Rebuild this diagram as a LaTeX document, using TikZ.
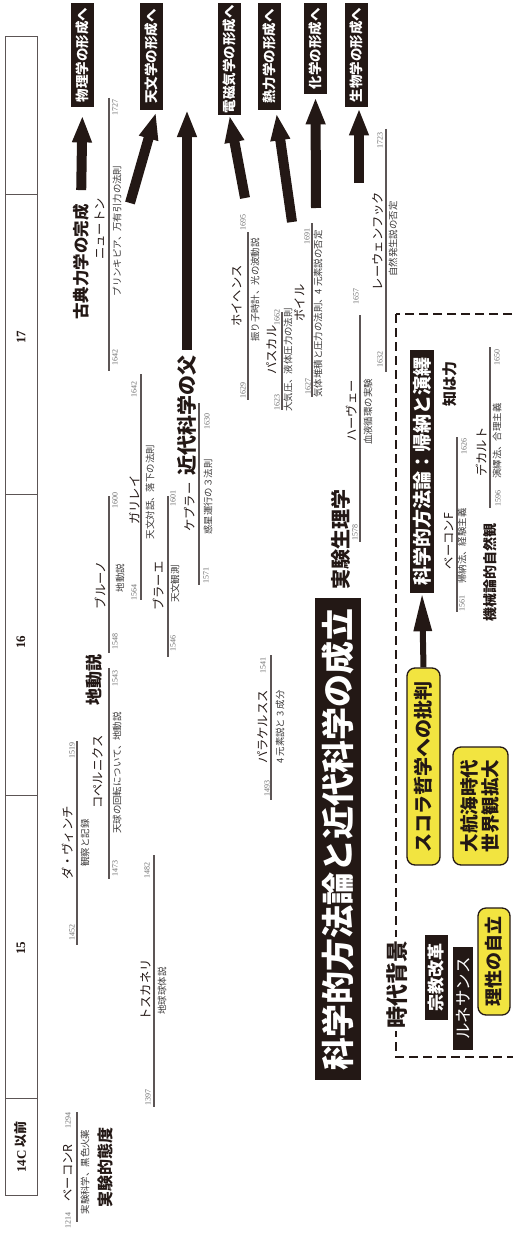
\documentclass[tikz,border=0pt]{standalone}
\usepackage{fontspec}
\setmainfont{Liberation Serif}
\newfontfamily\jp{Noto Sans CJK JP}
\usetikzlibrary{arrows.meta,calc}

\definecolor{ink}{HTML}{231815}
\definecolor{hilite}{HTML}{F2E440}
\definecolor{rule}{HTML}{5C5555}
\definecolor{yeargray}{HTML}{6E6E6E}
\definecolor{descgray}{HTML}{3C3A3A}

\tikzset{
  lbl/.style={rotate=90, inner sep=0pt, anchor=center},
  who/.style={lbl, font=\jp\fontsize{12.3}{12.3}\selectfont, text=ink},
  what/.style={lbl, font=\jp\fontsize{9.4}{9.4}\selectfont, text=descgray},
  yr/.style={lbl, font=\fontsize{8}{8}\selectfont, text=yeargray},
  theme/.style={lbl, font=\jp\bfseries\fontsize{#1}{#1}\selectfont, text=ink},
  era/.style={lbl, font=\bfseries\fontsize{13}{13}\selectfont, text=ink},
  life/.style={draw=rule, line width=1.1pt},
  goal/.style={rotate=90, fill=ink, text=white, anchor=east, inner sep=0pt,
    minimum height=23pt, font=\jp\bfseries\fontsize{13.5}{13.5}\selectfont},
  tag/.style={rotate=90, fill=ink, text=white, inner sep=0pt, anchor=center},
  note/.style={rotate=90, fill=hilite, draw=ink, line width=1.3pt, rounded corners=8pt,
    text=ink, inner sep=0pt, anchor=center, align=center},
  bigarrow/.style={draw=ink, line width=10pt, -{Triangle[width=18pt,length=27pt]}},
}

\begin{document}
\begin{tikzpicture}[x=1pt, y=-1pt]
\fill[white] (0,0) rectangle (513,1236);
\useasboundingbox (0,0) rectangle (513,1236);

% century column
\draw[draw=rule, line width=1pt] (5,37) rectangle (37,1195);
\foreach \yy in {194,494,795,1098} \draw[draw=rule, line width=1pt] (5,\yy) -- (37,\yy);
\node[era] (c17) at (21,337) {17};
\node[era] (c16) at (21,642) {16};
\node[era] (c15) at (21,948) {15};
\node[era] (c14) at (21,1147) {14C {\jp 以前}};

% target fields
\node[goal, minimum width=104pt] (phys)   at (82.5,3)  {物理学の形成へ};
\node[goal, minimum width=107pt] (astro)  at (151.5,3) {天文学の形成へ};
\node[goal, minimum width=112pt] (emag)   at (229.5,3) {電磁気学の形成へ};
\node[goal, minimum width=107pt] (thermo) at (269.5,3) {熱力学の形成へ};
\node[goal, minimum width=91pt]  (chem)   at (315.5,3) {化学の形成へ};
\node[goal, minimum width=104pt] (bio)    at (356.5,3) {生物学の形成へ};

% Roger Bacon
\draw[life] (77,1112) -- (77,1222);
\node[yr] (rbB) at (68,1220) {1214};
\node[who] (rb) at (68,1173) {ベーコンR};
\node[yr] (rbD) at (68,1120) {1294};
\node[what] (rbW) at (85,1172) {実験科学、黒色火薬};
\node[theme=16] (expAtt) at (105,1167) {実験的態度};

% Toscanelli
\draw[life] (154,855) -- (154,1107);
\node[yr] (tsD) at (147,870) {1482};
\node[yr] (tsB) at (148,1097) {1397};
\node[who] (ts) at (146,990) {トスカネリ};
\node[what] (tsW) at (162,991) {地球球体説};

% Leonardo
\draw[life] (77,741) -- (77,945);
\node[yr] (dvD) at (72,750) {1519};
\node[yr] (dvB) at (72,932) {1452};
\node[who] (dv) at (68,843) {ダ・ヴィンチ};
\node[what] (dvW) at (85,843) {観察と記録};

% Copernicus
\draw[life] (109,668) -- (109,879);
\node[yr] (cpD) at (115,678) {1543};
\node[yr] (cpB) at (115,868) {1473};
\node[who] (cp) at (98,772) {コペルニクス};
\node[what] (cpW) at (117,773) {天球の回転について、地動説};
\node[theme=17] (helio) at (94,680) {地動説};

% Bruno
\draw[life] (109,496) -- (109,653);
\node[yr] (brD) at (115,500) {1600};
\node[yr] (brB) at (115,641) {1548};
\node[who] (br) at (100,585) {ブルーノ};
\node[what] (brW) at (120,578) {地動説};

% Galileo
\draw[life] (141,374) -- (141,600);
\node[yr] (glD) at (134,389) {1642};
\node[yr] (glB) at (134,592) {1564};
\node[who] (gl) at (135,500) {ガリレイ};
\node[what] (glW) at (150,492) {天文対話、落下の法則};

% Tycho
\draw[life] (168,496) -- (168,657);
\node[yr] (tyD) at (173,498) {1601};
\node[yr] (tyB) at (173,643) {1546};
\node[who] (ty) at (158,586) {ブラーエ};
\node[what] (tyW) at (175,584) {天文観測};

% Kepler
\draw[life] (199,403) -- (199,585);
\node[yr] (kpD) at (207,421) {1630};
\node[yr] (kpB) at (206,575) {1571};
\node[who] (kp) at (190,507) {ケプラー};
\node[what] (kpW) at (208,497) {惑星運行の３法則};
\node[theme=20] (father) at (187,415) {近代科学の父};

% Newton
\draw[life] (109,98) -- (109,371);
\node[yr] (nwD) at (115,108) {1727};
\node[yr] (nwB) at (115,357) {1642};
\node[who] (nw) at (100,229) {ニュートン};
\node[what] (nwW) at (117,231) {プリンキピア、万有引力の法則};
\node[theme=16.5] (classic) at (81,262) {古典力学の完成};

% Paracelsus
\draw[life] (271,655) -- (271,800);
\node[yr] (pcD) at (263,665) {1541};
\node[yr] (pcB) at (267,788) {1493};
\node[who] (pc) at (263,727) {パラケルスス};
\node[what] (pcW) at (280,727) {4 元素説と 3 成分};

% Huygens
\draw[life] (248,232) -- (248,400);
\node[yr] (hyD) at (243,222) {1695};
\node[yr] (hyB) at (243,390) {1629};
\node[who] (hy) at (237,296) {ホイヘンス};
\node[what] (hyW) at (255,290) {振り子時計、光の波動説};

% Pascal
\draw[life] (282,312) -- (282,410);
\node[yr] (psD) at (277,317) {1662};
\node[yr] (psB) at (277,402) {1623};
\node[who] (ps) at (272,350) {パスカル};
\node[what] (psW) at (288,360) {大気圧、液体圧力の法則};

% Boyle
\draw[life] (312,223) -- (312,397);
\node[yr] (byD) at (307,236) {1691};
\node[yr] (byB) at (308,386) {1627};
\node[who] (by) at (300,303) {ボイル};
\node[what] (byW) at (318,314) {気体堆積と圧力の法則、4 元素説の否定};

% Harvey
\draw[life] (360,315) -- (360,542);
\node[yr] (hvD) at (356,296) {1657};
\node[yr] (hvB) at (355,532) {1578};
\node[who] (hv) at (352,411) {ハーヴェー};
\node[what] (hvW) at (368,412) {血液循環の実験};
\node[theme=20] (physio) at (341,539) {実験生理学};

% Leeuwenhoek
\draw[life] (386,129) -- (386,372);
\node[yr] (lwD) at (380,140) {1723};
\node[yr] (lwB) at (380,359) {1632};
\node[who] (lw) at (378,241) {レーウェンフック};
\node[what] (lwW) at (393,239) {自然発生説の否定};

% title band
\node[tag, minimum width=482pt, minimum height=46pt,
  font=\jp\bfseries\fontsize{33}{33}\selectfont] (title) at (338,839)
  {科学的方法論と近代科学の成立};

% background frame
\draw[draw=ink, line width=1.2pt, dash pattern=on 9pt off 5pt] (396,314) rectangle (530,1057);
\node[lbl, fill=white, inner sep=3pt, font=\jp\bfseries\fontsize{22}{22}\selectfont, text=ink]
  (bg) at (397,984) {時代背景};
\node[tag, minimum width=85pt, minimum height=23pt,
  font=\jp\bfseries\fontsize{17}{17}\selectfont] (reform) at (436.5,977.5) {宗教改革};
\node[tag, minimum width=103pt, minimum height=20pt,
  font=\jp\fontsize{16.5}{16.5}\selectfont] (renai) at (463,998.5) {ルネサンス};
\node[note, minimum width=107pt, minimum height=32pt,
  font=\jp\bfseries\fontsize{18}{18}\selectfont] (reason) at (494,961.5) {理性の自立};
\node[note, minimum width=118pt, minimum height=55pt,
  font=\jp\bfseries\fontsize{18.5}{21}\selectfont] (voyage) at (480.5,806) {大航海時代\\世界観拡大};
\node[note, minimum width=197pt, minimum height=33pt,
  font=\jp\bfseries\fontsize{19}{19}\selectfont] (schola) at (423.5,766.5) {スコラ哲学への批判};
\node[tag, minimum width=243pt, minimum height=24pt,
  font=\jp\bfseries\fontsize{19}{19}\selectfont] (method) at (422,471.5) {科学的方法論：帰納と演繹};
\node[theme=15] (power) at (450,384) {知は力};
\node[theme=14] (mech) at (490,572) {機械論的自然観};

% Francis Bacon
\draw[life] (457,437) -- (457,612);
\node[yr] (fbD) at (464,446) {1626};
\node[yr] (fbB) at (462,603) {1561};
\node[who] (fb) at (449,541) {ベーコンF};
\node[what] (fbW) at (462,546) {帰納法、経験主義};

% Descartes
\draw[life] (490,347) -- (490,508);
\node[yr] (dcD) at (497,357) {1650};
\node[yr] (dcB) at (498,498) {1596};
\node[who] (dc) at (482,452) {デカルト};
\node[what] (dcW) at (497,441) {演繹法、合理主義};

% arrows
\coordinate (astroTail) at (130,203);
\coordinate (keplerTip) at (187,110);
\coordinate (emTail) at (245,198);
\coordinate (thermoTail) at (292,222);
\coordinate (chemTail) at (316,208);
\coordinate (bioTail) at (359,183);
\draw[bigarrow, shorten <=14pt, shorten >=8pt] (classic.east) -- (phys.west);
\draw[bigarrow] (astroTail) -- ([xshift=4.5pt, yshift=-2pt]astro.west);
\draw[bigarrow, shorten <=5pt] (father.east) -- (keplerTip);
\draw[bigarrow] (emTail) -- (emag.west);
\draw[bigarrow] (thermoTail) -- ([xshift=7pt, yshift=-3pt]thermo.west);
\draw[bigarrow, shorten >=3pt] (chemTail) -- (chem.west);
\draw[bigarrow] (bioTail) -- ([xshift=2.5pt, yshift=-1pt]bio.west);
\draw[draw=ink, line width=6pt, -{Triangle[width=17pt,length=38pt]}] (schola.east) -- (method.west);
\end{tikzpicture}
\end{document}
